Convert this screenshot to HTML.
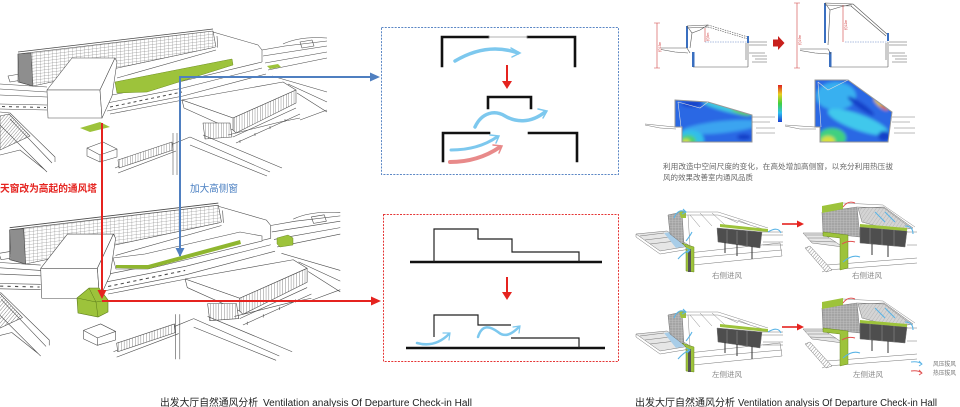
<!DOCTYPE html>
<html><head><meta charset="utf-8">
<style>
html,body{margin:0;padding:0;background:#fff;}
svg{display:block;}
text{font-family:"Liberation Sans","Noto Sans CJK SC",sans-serif;}
</style></head><body>
<svg width="960" height="407" viewBox="0 0 960 407" xmlns="http://www.w3.org/2000/svg">
<defs>
<pattern id="hv" width="4" height="3" patternUnits="userSpaceOnUse" patternTransform="skewY(-7)">
<rect width="4" height="3" fill="#fff"/>
<path d="M0,0V3M0,0H4" stroke="#666" stroke-width="0.45"/>
</pattern>
<pattern id="vl" width="2.6" height="10" patternUnits="userSpaceOnUse">
<rect width="2.6" height="10" fill="#fff"/>
<path d="M0,0V10" stroke="#444" stroke-width="0.6"/>
</pattern>
<pattern id="dg" width="2.5" height="2.5" patternUnits="userSpaceOnUse" patternTransform="rotate(40)">
<rect width="2.5" height="2.5" fill="#fff"/>
<path d="M0,0V2.5" stroke="#444" stroke-width="0.6"/>
</pattern>
<pattern id="grid" width="3" height="2.5" patternUnits="userSpaceOnUse">
<rect width="3" height="2.5" fill="#a4a4a4"/>
<path d="M0,0V2.5M0,0H3" stroke="#d8d8d8" stroke-width="0.45"/>
</pattern>
<pattern id="dgl" width="3" height="3" patternUnits="userSpaceOnUse" patternTransform="rotate(35)">
<rect width="3" height="3" fill="#d4d4d4"/>
<path d="M0,0V3" stroke="#999" stroke-width="0.5"/>
</pattern>
<linearGradient id="cbar" x1="0" y1="0" x2="0" y2="1">
<stop offset="0" stop-color="#e02020"/><stop offset="0.25" stop-color="#e8d020"/>
<stop offset="0.5" stop-color="#40d040"/><stop offset="0.75" stop-color="#30c0f0"/>
<stop offset="1" stop-color="#1a40d0"/>
</linearGradient>
<filter id="bl" x="-10%" y="-10%" width="120%" height="120%"><feGaussianBlur stdDeviation="1.6"/></filter>
<clipPath id="c1"><polygon points="675,100 708,102 752,115 752,142 682,142 682,127 675,127"/></clipPath>
<clipPath id="c2"><polygon points="815,80 848,80 892,112 888,142 820,142 820,127 815,127"/></clipPath>

<g id="bld" fill="none" stroke="#4a4a4a" stroke-width="0.55" stroke-linejoin="round">
  <path d="M213,32 L258,45 L262,50 L262,62 M217,36 L218,52 M262,50 L285,46 L327,41 M263,56 L327,46 M265,63 L327,52 M268,70 L327,58 M300,42 L312,40 L314,46 L302,48 Z"/>
  <path d="M272,76 L327,92 M288,84 L327,102 M297,93 L327,112 M300,120 L327,110 M283,44 Q300,36 327,38"/>
  <path d="M0,84 L47,87 M0,89 L47,92 M0,95 L47,97 M0,104 L47,105 M0,109 L47,110"/>
  <path d="M2,106.5 L46,107.5" stroke-width="1" stroke-dasharray="3,4"/>
  <path d="M8,76 L20,74 L22,80 L10,82 Z"/>
  <polygon points="18,54 213,31 216,47 33,86 18,82" fill="url(#hv)"/>
  <path d="M18,52 L213,29" stroke-width="0.8"/>
  <polygon points="18,54 31,53 33,86 19,82" fill="#8e8e8e"/>
  <polygon points="112,90 216,47 262,62 183,81 107,96" fill="#fff" stroke="none"/>
  <path d="M117,78 L216,50"/>
  <path d="M107,96 L183,81 L262,62 M107,103 L183,88 L262,68 M107,111 L183,96 L266,74 M110,114 L183,100"/>
  <path d="M110,107 L182,92" stroke-width="1" stroke-dasharray="3,3"/>
  <polygon points="47,90 72,58 115,58 100,90" fill="#fff"/>
  <polygon points="47,90 100,90 102,118 48,118" fill="#fff"/>
  <polygon points="100,90 115,58 117,62 112,96 102,118" fill="#fff"/>
  <polygon points="182,100 283,82 296,90 233,118" fill="#fff"/>
  <polygon points="233,118 296,90 296,103 236,133 233,130" fill="url(#vl)"/>
  <polygon points="182,100 233,118 233,130 184,108" fill="#fff"/>
  <path d="M233,137 L296,108 M236,143 L300,114 M240,140 l0,3 M255,133 l0,3 M270,126 l0,3 M285,119 l0,3"/>
  <polygon points="203,123 230,123 232,137 205,139" fill="url(#vl)"/>
  <path d="M115,168 L173,144 L190,137 M118,173 L176,151"/>
  <polygon points="118,160 172,142 173,150 119,168" fill="url(#vl)"/>
  <path d="M173,133 L173,175 M177,133 L177,175"/>
  <path d="M190,137 L270,172 M190,145 L267,176 M203,135 L282,168 M228,135 L280,122 L300,118"/>
  <polygon points="0,116 9,114 30,136 0,150" fill="url(#dg)"/>
  <path d="M0,112 L10,113 L55,157 L55,162 M0,125 L47,172 M10,119 L52,163 M0,155 L20,150 L45,170"/>
  <path d="M87,148 L103,142 L117,149 L100,155 Z M87,148 L87,156 L100,162 L117,157 L117,149 M100,155 L100,162"/>
</g>

<g id="dA" fill="none" stroke="#777" stroke-width="0.5">
  <path d="M688,253 L780,243 M690,258 L782,250 M693,265 L782,256 M688,253 L693,265 M780,243 L782,256"/>
  <polygon points="636,234 667,231 690,246 660,251" fill="#e6e6e6"/>
  <path d="M636,234 L636,237 L660,254 L690,249 M640,236 L664,233 M645,240 L670,237 M650,244 L676,241"/>
  <polygon points="664,233 672,232 686,246 676,248" fill="#a8cde8" stroke="none"/>
  <polygon points="668,215 682,212 684,245 670,234" fill="url(#grid)"/>
  <polygon points="679,211 686,211 686,218 681,218" fill="#9dc33b" stroke="none"/>
  <polygon points="682,243 694,247 694,272 686,271 686,247" fill="#9dc33b" stroke="#6a8a20"/>
  <path d="M682,212 L718,212 L768,228 M684,215 L718,215 L766,230 M690,215 L700,227 M700,213 L712,226 M712,213 L725,225 M725,217 L738,223 M738,220 L750,225 M688,215 L690,247" stroke="#888"/>
  <rect x="688" y="249" width="3" height="23" fill="#555" stroke="none"/>
  <polygon points="717,228 762,232 760,248 718,242" fill="#4e4e4e"/>
  <path d="M727,230 V243 M737,231 V245 M747,231 V246" stroke="#999"/>
  <polygon points="720,224 768,229 768,232 720,227" fill="#9dc33b" stroke="none"/>
  <path d="M762,232 L783,232 M762,235 L783,235 M763,242 L783,242 M763,245 L783,245"/>
  <path d="M725,242 V253 M737,244 V256 M752,246 V259" stroke="#333" stroke-width="1"/>
  <g stroke="#5ab4e6" stroke-width="1.1">
    <path d="M674,218 Q678,208 686,212 M683,209 L686,212 L682,214"/>
    <path d="M768,232 Q778,226 781,233"/>
    <path d="M678,259 Q684,252 690,250 M686,248 L690,250 L687,253"/>
    <path d="M686,241 Q690,236 692,232"/>
  </g>
</g>
<g id="dB" fill="none" stroke="#777" stroke-width="0.5">
  <path d="M827,265 L917,258 M827,270 L917,263 M822,272 L827,270 M827,265 L827,270"/>
  <polygon points="803,233 822,233 843,247 812,243" fill="#e6e6e6"/>
  <path d="M805,235 L824,235 M808,238 L829,238 M810,241 L836,242"/>
  <polygon points="805,248 810,246 832,270 826,272" fill="url(#dg)"/>
  <polygon points="822,212 857,207 860,237 823,233" fill="url(#grid)"/>
  <polygon points="822,206 843,202 843,209 822,213" fill="#9dc33b" stroke="none"/>
  <polygon points="823,232 848,235 848,268 840,270 840,238 823,236" fill="#9dc33b" stroke="#6a8a20"/>
  <polygon points="858,208 884,207 913,228 895,231 862,222" fill="url(#dgl)"/>
  <path d="M843,203 L883,205 L915,227 M857,207 L884,208 L912,229" stroke="#888"/>
  <polygon points="860,227 907,231 905,247 860,243" fill="#4e4e4e"/>
  <path d="M870,228 V244 M882,229 V245 M894,230 V246" stroke="#999"/>
  <polygon points="860,224 907,228 907,231 860,227" fill="#9dc33b" stroke="none"/>
  <path d="M907,232 L917,232 M907,245 L917,245"/>
  <path d="M872,244 V255 M888,245 V257" stroke="#333" stroke-width="1"/>
  <g stroke="#e05050" stroke-width="1">
    <path d="M843,207 Q848,200 855,203"/>
    <path d="M842,244 Q848,240 855,242"/>
  </g>
  <g stroke="#5ab4e6" stroke-width="1.1">
    <path d="M843,262 Q852,254 860,257"/>
    <path d="M905,226 Q913,226 913,234"/>
    <path d="M885,212 L895,222 M875,212 L885,222"/>
  </g>
</g>
</defs>

<rect width="960" height="407" fill="#fff"/>

<use href="#bld"/>
<polygon points="115,82 232,59 233,65 147,92 117,93" fill="#9dc33b" stroke="#6d8f22" stroke-width="0.5"/>
<polygon points="80,128 100,122 110,127 90,132" fill="#9dc33b"/>
<polygon points="267,66 278,64 281,67 270,69" fill="#9dc33b"/>

<use href="#bld" transform="matrix(1.07,0,0,1.07,-9.6,172)"/>
<polygon points="113,258 145,254 240,232 262,236 262,241 148,269 116,269" fill="#fff" stroke="#4a4a4a" stroke-width="0.55"/>
<polygon points="116,265 148,265 240,240 241,244 148,269 116,268" fill="#8fb62f"/>
<polygon points="77,298 89,288 99,288 108,300 108,312 98,317 78,313" fill="#9dc33b" stroke="#5a7a1a" stroke-width="0.6"/>
<path d="M77,298 L96,302 L108,300 M96,302 L98,317 M89,288 L96,302" stroke="#5a7a1a" stroke-width="0.5" fill="none"/>
<polygon points="277,238 288,235 293,238 293,245 280,247 277,244" fill="#9dc33b" stroke="#5a7a1a" stroke-width="0.4"/>

<g stroke="#4f7fc0" stroke-width="2" fill="none">
  <path d="M180,256 V77 H372"/>
</g>
<polygon points="370,72.5 380,77 370,81.5" fill="#4f7fc0"/>
<polygon points="175.5,248 184.5,248 180,257" fill="#4f7fc0"/>
<g stroke="#e5231f" stroke-width="2" fill="none">
  <path d="M102,123 V291 M102,301 H373"/>
</g>
<polygon points="97.5,290 106.5,290 102,299" fill="#e5231f"/>
<polygon points="371,296.5 381,301 371,305.5" fill="#e5231f"/>
<text x="0" y="192" font-size="10" font-weight="bold" fill="#e5231f" textLength="97" lengthAdjust="spacingAndGlyphs">天窗改为高起的通风塔</text>
<text x="190" y="192" font-size="10" fill="#4a7fc1" textLength="48" lengthAdjust="spacingAndGlyphs">加大高侧窗</text>

<rect x="381.5" y="27.5" width="237" height="147" fill="none" stroke="#5b87c5" stroke-width="1" stroke-dasharray="2,1.3"/>
<g stroke="#111" stroke-width="2.6" fill="none" stroke-linecap="square">
  <path d="M442,66 V37 H488"/>
  <path d="M528,37 H575 V66"/>
  <path d="M488,108 V97 H531 V108"/>
  <path d="M443,161 V133 H489"/>
  <path d="M529,133 H577 V161"/>
</g>
<line x1="488" y1="37" x2="528" y2="37" stroke="#999" stroke-width="0.8"/>
<g fill="none" stroke-linecap="round">
  <path d="M455,61 Q487,42 518,53" stroke="#7dc8ee" stroke-width="3.5"/>
  <path d="M511,48 L520,53 L512,57" stroke="#7dc8ee" stroke-width="1.5"/>
  <path d="M475,127 C482,112 495,110 505,116 C515,122 530,124 545,112" stroke="#7dc8ee" stroke-width="3.5"/>
  <path d="M538,109 L547,111 L543,118" stroke="#7dc8ee" stroke-width="1.5"/>
  <path d="M451,150 Q478,150 497,137" stroke="#7dc8ee" stroke-width="3"/>
  <path d="M490,135 L499,136 L496,143" stroke="#7dc8ee" stroke-width="1.5"/>
  <path d="M450,162 Q478,162 500,147" stroke="#e88a8a" stroke-width="4"/>
  <path d="M493,145 L502,146 L499,153" stroke="#e88a8a" stroke-width="1.5"/>
</g>
<line x1="507" y1="65" x2="507" y2="82" stroke="#e5231f" stroke-width="2"/>
<polygon points="502,81 512,81 507,89" fill="#e5231f"/>

<rect x="383.5" y="214.5" width="235" height="147" fill="none" stroke="#e53535" stroke-width="1" stroke-dasharray="2,1.3"/>
<g stroke="#111" stroke-width="2.6" fill="none">
  <path d="M410,262 H602"/>
  <path d="M406,348 H605"/>
</g>
<g stroke="#222" stroke-width="1.2" fill="none">
  <path d="M434,262 V229 H478 V239 H512 V252 H579 V262"/>
  <path d="M434,337 V315 H478 V325 H511"/>
  <path d="M511,338 H579 V348"/>
</g>
<line x1="507" y1="277" x2="507" y2="293" stroke="#e5231f" stroke-width="2"/>
<polygon points="502,292 512,292 507,300" fill="#e5231f"/>
<g fill="none" stroke="#7dc8ee" stroke-linecap="round">
  <path d="M417,343 Q435,348 449,334" stroke-width="2.5"/>
  <path d="M443,333 L450,333 L449,340" stroke-width="1.2"/>
  <path d="M478,337 C482,324 490,326 498,332 C505,338 512,334 519,327" stroke-width="2.5"/>
  <path d="M513,327 L520,326 L519,333" stroke-width="1.2"/>
</g>

<g fill="none" stroke="#555" stroke-width="0.6">
  <path d="M657,23 V68 M654,23 H660 M654,68 H660" stroke="#d04040"/>
  <rect x="686" y="26" width="2" height="22" fill="#3a6fc0" stroke="none"/>
  <rect x="692" y="52" width="2.5" height="15" fill="#3a6fc0" stroke="none"/>
  <path d="M687,26 L708,25 M687,28 L708,27 M687,26 L692,33 L700,30 L708,25 M692,33 L690,48"/>
  <path d="M708,25 L748,37 M708,27 L748,39" stroke-dasharray="1.5,1"/>
  <rect x="747" y="36" width="2" height="7" fill="#3a6fc0" stroke="none"/>
  <path d="M705,28 V42" stroke="#d04040"/>
  <path d="M705,42 H748" stroke="#5a7fc0" stroke-dasharray="1.5,1"/>
  <path d="M693,67 H748 M748,43 V67 M746,43 V60"/>
  <path d="M749,42 H767 M749,45 H767 M749,53 H765 M752,56 H767 M755,59 H767 M752,62 H767"/>
  <path d="M661,48 H687 L690,53 M661,49.5 L675,52 L688,53"/>

  <path d="M797,3 V68 M794,3 H800 M794,68 H800" stroke="#d04040"/>
  <rect x="824" y="3" width="2" height="40" fill="#3a6fc0" stroke="none"/>
  <rect x="829" y="52" width="2.5" height="15" fill="#3a6fc0" stroke="none"/>
  <path d="M825,3 L853,4 M825,5 L852,6 M853,4 L888,35 M851,6 L886,36 M825,3 L830,10 L840,7 L853,4 M830,10 L828,45"/>
  <rect x="887" y="33" width="2" height="8" fill="#3a6fc0" stroke="none"/>
  <path d="M843,5 V42" stroke="#d04040"/>
  <path d="M845,42 H888" stroke="#5a7fc0" stroke-dasharray="1.5,1"/>
  <path d="M830,67 H888 M888,42 V67 M886,43 V60"/>
  <path d="M889,42 H907 M889,45 H907 M889,53 H905 M892,56 H907 M895,59 H907 M892,62 H907"/>
  <path d="M800,49 H828 L831,54 M800,50.5 L815,53 L829,54"/>
</g>
<text x="0" y="0" font-size="3.5" fill="#d04040" transform="translate(661,52) rotate(-90)">约13m</text>
<text x="0" y="0" font-size="3.5" fill="#d04040" transform="translate(709,41) rotate(-90)">约3m</text>
<text x="0" y="0" font-size="3.5" fill="#d04040" transform="translate(801,45) rotate(-90)">约19m</text>
<text x="0" y="0" font-size="3.5" fill="#d04040" transform="translate(847,30) rotate(-90)">约12m</text>
<polygon points="773,39.5 778,39.5 778,36 784.5,43 778,50 778,46.5 773,46.5" fill="#c8201c"/>

<g clip-path="url(#c1)"><g filter="url(#bl)">
  <rect x="670" y="95" width="90" height="50" fill="#2a68e4"/>
  <ellipse cx="722" cy="127" rx="40" ry="6" fill="#3aa4f0" transform="rotate(-6 722 127)"/>
  <ellipse cx="690" cy="140" rx="14" ry="10" fill="#33c0e8"/>
  <ellipse cx="688" cy="141" rx="8" ry="6" fill="#50d070"/>
  <ellipse cx="686" cy="142" rx="4" ry="3" fill="#d8e040"/>
  <ellipse cx="728" cy="108" rx="26" ry="4" fill="#40c8e0" transform="rotate(14 728 108)"/>
  <ellipse cx="741" cy="112" rx="10" ry="2.5" fill="#60d060" transform="rotate(17 741 112)"/>
  <ellipse cx="692" cy="104" rx="10" ry="3" fill="#1540c8"/>
  <ellipse cx="744" cy="137" rx="7" ry="3" fill="#1540c8"/>
</g></g>
<polygon points="675,100 708,102 752,115 752,142 682,142 682,127 675,127" fill="none" stroke="#999" stroke-width="1"/>
<path d="M678,102 L681,127 M678,102 L700,108 L708,102" stroke="#ddd" stroke-width="0.6" fill="none"/>
<path d="M645,124 L675,127 M645,125 L660,128 L676,129 M752,117 H775 M752,122 H770 M756,128 H775 M756,133 H775" stroke="#777" stroke-width="0.5" fill="none"/>
<rect x="778" y="85" width="4" height="37" fill="url(#cbar)"/>
<g clip-path="url(#c2)"><g filter="url(#bl)">
  <rect x="810" y="75" width="90" height="70" fill="#2a68e4"/>
  <ellipse cx="836" cy="96" rx="20" ry="14" fill="#38b0f0"/>
  <ellipse cx="858" cy="122" rx="32" ry="8" fill="#40c8ec" transform="rotate(20 858 122)"/>
  <ellipse cx="861" cy="106" rx="16" ry="3" fill="#1540c8" transform="rotate(35 861 106)"/>
  <ellipse cx="832" cy="138" rx="14" ry="10" fill="#40d080"/>
  <ellipse cx="828" cy="141" rx="7" ry="5" fill="#d8e040"/>
  <ellipse cx="881" cy="104" rx="9" ry="3" fill="#e0c030" transform="rotate(40 881 104)"/>
  <ellipse cx="884" cy="107" rx="4" ry="1.5" fill="#e03020" transform="rotate(40 884 107)"/>
  <ellipse cx="884" cy="136" rx="6" ry="5" fill="#1540c8"/>
</g></g>
<polygon points="815,80 848,80 892,112 888,142 820,142 820,127 815,127" fill="none" stroke="#999" stroke-width="1"/>
<path d="M818,82 L821,127 M818,82 L828,90 L848,80" stroke="#ddd" stroke-width="0.6" fill="none"/>
<path d="M785,125 L815,127 M785,126 L800,129 L816,129 M892,117 H915 M892,122 H910 M894,128 H915 M894,133 H915" stroke="#777" stroke-width="0.5" fill="none"/>

<text x="663" y="169" font-size="7.5" fill="#666" textLength="230" lengthAdjust="spacingAndGlyphs">利用改造中空间尺度的变化，在高处增加高侧窗，以充分利用热压拔</text>
<text x="663" y="180" font-size="7.5" fill="#666" textLength="90" lengthAdjust="spacingAndGlyphs">风的效果改善室内通风品质</text>

<use href="#dA"/>
<use href="#dB"/>
<use href="#dA" transform="translate(0,100)"/>
<use href="#dB" transform="translate(0,96)"/>
<g stroke="#e5231f" stroke-width="1.6">
  <line x1="782" y1="224" x2="798" y2="224"/>
  <line x1="782" y1="327" x2="798" y2="327"/>
</g>
<polygon points="797,220.5 804,224 797,227.5" fill="#e5231f"/>
<polygon points="797,323.5 804,327 797,330.5" fill="#e5231f"/>
<text x="712" y="278" font-size="7.5" fill="#888" textLength="30" lengthAdjust="spacingAndGlyphs">右侧进风</text>
<text x="852" y="278" font-size="7.5" fill="#888" textLength="30" lengthAdjust="spacingAndGlyphs">右侧进风</text>
<text x="712" y="377" font-size="7.5" fill="#888" textLength="30" lengthAdjust="spacingAndGlyphs">左侧进风</text>
<text x="853" y="377" font-size="7.5" fill="#888" textLength="30" lengthAdjust="spacingAndGlyphs">左侧进风</text>
<path d="M911,362 Q918,361 922,364 M919,361 L922,364 L919,366" stroke="#5ab4e6" stroke-width="0.9" fill="none"/>
<path d="M911,371 Q918,370 922,373 M919,370 L922,373 L919,375" stroke="#e05050" stroke-width="0.9" fill="none"/>
<text x="933" y="366" font-size="6" fill="#777" textLength="23" lengthAdjust="spacingAndGlyphs">风压拔风</text>
<text x="933" y="375" font-size="6" fill="#777" textLength="23" lengthAdjust="spacingAndGlyphs">热压拔风</text>

<text x="160" y="406" font-size="10" fill="#222" textLength="98" lengthAdjust="spacingAndGlyphs">出发大厅自然通风分析</text>
<text x="263" y="406" font-size="10" fill="#222" textLength="209" lengthAdjust="spacingAndGlyphs">Ventilation analysis Of Departure Check-in Hall</text>
<text x="635" y="406" font-size="10" fill="#222" textLength="100" lengthAdjust="spacingAndGlyphs">出发大厅自然通风分析</text>
<text x="738" y="406" font-size="10" fill="#222" textLength="199" lengthAdjust="spacingAndGlyphs">Ventilation analysis Of Departure Check-in Hall</text>
</svg>
</body></html>
